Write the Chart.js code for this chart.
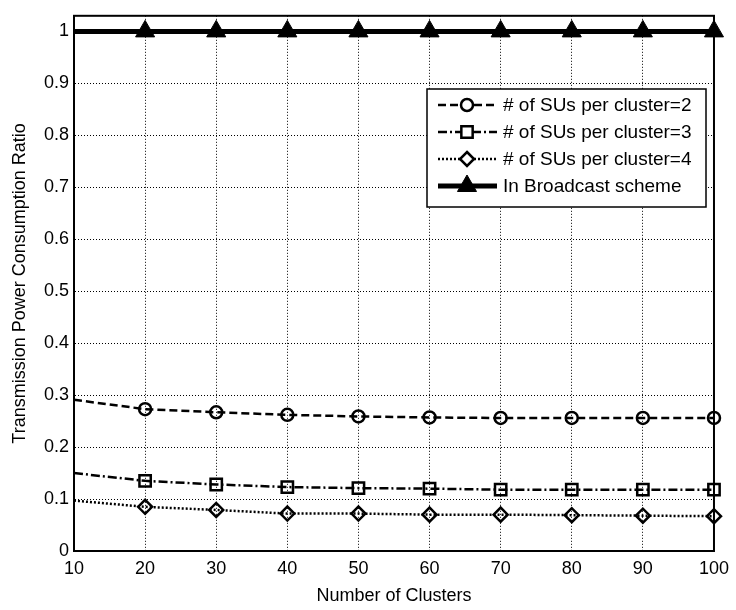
<!DOCTYPE html>
<html>
<head>
<meta charset="utf-8">
<script src="https://cdn.jsdelivr.net/npm/chart.js@4/dist/chart.umd.min.js"></script>
<style>
  html, body { margin: 0; padding: 0; background: #fff; }
  #wrap { width: 736px; height: 610px; }
</style>
</head>
<body>
<div id="wrap"><canvas id="chart" width="736" height="610"></canvas></div>
<script>
'use strict';

var clusters = [10, 20, 30, 40, 50, 60, 70, 80, 90, 100];
var su2 = [0.291, 0.273, 0.267, 0.262, 0.259, 0.257, 0.256, 0.256, 0.256, 0.256];
var su3 = [0.150, 0.135, 0.128, 0.123, 0.121, 0.120, 0.118, 0.118, 0.118, 0.118];
var su4 = [0.097, 0.085, 0.079, 0.072, 0.072, 0.070, 0.070, 0.069, 0.068, 0.067];
var broadcast = [1, 1, 1, 1, 1, 1, 1, 1, 1, 1];
var seriesLabels = [
	'# of SUs per cluster=2',
	'# of SUs per cluster=3',
	'# of SUs per cluster=4',
	'In Broadcast scheme'
];

var FONT = '"Liberation Sans", Arial, Helvetica, sans-serif';

function points( ys ) {
	return clusters.map( function ( x, i ) {
		return { x: x, y: ys[i] };
	} );
}

// no marker on the first sample, as in the original figure
function radii( r ) {
	return clusters.map( function ( x, i ) {
		return i === 0 ? 0 : r;
	} );
}

function drawMarker( ctx, style, x, y, r ) {
	ctx.beginPath();
	if ( style === 'circle' ) {
		ctx.arc( x, y, r, 0, Math.PI * 2 );
	} else if ( style === 'rect' ) {
		var s = r * Math.SQRT1_2;
		ctx.rect( x - s, y - s, s * 2, s * 2 );
	} else if ( style === 'rectRot' ) {
		ctx.moveTo( x, y - r );
		ctx.lineTo( x + r, y );
		ctx.lineTo( x, y + r );
		ctx.lineTo( x - r, y );
		ctx.closePath();
	} else if ( style === 'triangle' ) {
		ctx.moveTo( x, y - r );
		ctx.lineTo( x + r * 0.866, y + r * 0.5 );
		ctx.lineTo( x - r * 0.866, y + r * 0.5 );
		ctx.closePath();
	}
}

var boxAndLegend = {
	id: 'boxAndLegend',
	afterDraw: function ( chart ) {
		var ctx = chart.ctx;
		var a = chart.chartArea;

		ctx.save();
		ctx.strokeStyle = '#000';
		ctx.lineWidth = 2;
		ctx.setLineDash( [] );
		ctx.strokeRect( a.left, a.top, a.right - a.left, a.bottom - a.top );

		// legend box inside the plot, upper right
		var lx = 427, ly = 89, lw = 279, lh = 118, row = 27;
		ctx.fillStyle = '#fff';
		ctx.fillRect( lx, ly, lw, lh );
		ctx.lineWidth = 1.5;
		ctx.strokeRect( lx, ly, lw, lh );

		chart.data.datasets.forEach( function ( ds, i ) {
			var cy = ly + 16 + i * row;
			ctx.strokeStyle = '#000';
			ctx.lineWidth = ds.borderWidth;
			ctx.setLineDash( ds.borderDash || [] );
			ctx.beginPath();
			ctx.moveTo( 438, cy );
			ctx.lineTo( 497, cy );
			ctx.stroke();

			ctx.setLineDash( [] );
			ctx.lineWidth = ds.pointBorderWidth;
			drawMarker( ctx, ds.pointStyle, 467, cy, ds.legendRadius );
			if ( ds.pointStyle === 'triangle' ) {
				ctx.fillStyle = '#000';
				ctx.fill();
			} else {
				ctx.fillStyle = '#fff';
				ctx.fill();
			}
			ctx.stroke();

			ctx.fillStyle = '#000';
			ctx.font = '19px ' + FONT;
			ctx.textAlign = 'left';
			ctx.textBaseline = 'middle';
			ctx.fillText( ds.label, 503, cy + 1 );
		} );
		ctx.restore();
	}
};

new Chart( document.getElementById( 'chart' ), {
	type: 'line',
	data: {
		datasets: [
			{
				label: seriesLabels[0],
				data: points( su2 ),
				borderColor: '#000',
				borderWidth: 2.5,
				borderDash: [ 8, 4 ],
				pointStyle: 'circle',
				pointRadius: radii( 6 ),
				legendRadius: 6,
				pointBorderWidth: 2.5,
				pointBackgroundColor: 'rgba(0,0,0,0)',
				pointBorderColor: '#000',
				clip: false
			},
			{
				label: seriesLabels[1],
				data: points( su3 ),
				borderColor: '#000',
				borderWidth: 2.5,
				borderDash: [ 9, 3, 2, 3 ],
				pointStyle: 'rect',
				pointRadius: radii( 8 ),
				legendRadius: 8,
				pointBorderWidth: 2.5,
				pointBackgroundColor: 'rgba(0,0,0,0)',
				pointBorderColor: '#000',
				clip: false
			},
			{
				label: seriesLabels[2],
				data: points( su4 ),
				borderColor: '#000',
				borderWidth: 2.5,
				borderDash: [ 2, 2 ],
				pointStyle: 'rectRot',
				pointRadius: radii( 7 ),
				legendRadius: 7,
				pointBorderWidth: 2.5,
				pointBackgroundColor: 'rgba(0,0,0,0)',
				pointBorderColor: '#000',
				clip: false
			},
			{
				label: seriesLabels[3],
				data: points( broadcast ),
				borderColor: '#000',
				borderWidth: 5,
				pointStyle: 'triangle',
				pointRadius: radii( 11 ),
				legendRadius: 11,
				pointBorderWidth: 1,
				pointBackgroundColor: '#000',
				pointBorderColor: '#000',
				clip: false
			}
		]
	},
	options: {
		responsive: false,
		devicePixelRatio: 1,
		animation: false,
		layout: {
			padding: { left: 0, right: 18, top: 7, bottom: 0 }
		},
		plugins: {
			legend: { display: false },
			tooltip: { enabled: false }
		},
		elements: {
			line: { tension: 0 }
		},
		scales: {
			x: {
				type: 'linear',
				min: 10,
				max: 100,
				afterFit: function ( scale ) {
					scale.height = 59;
				},
				ticks: {
					stepSize: 10,
					color: '#000',
					padding: 7,
					maxRotation: 0,
					font: { family: FONT, size: 18 }
				},
				grid: {
					color: '#000',
					lineWidth: 1,
					drawTicks: false,
					tickBorderDash: [],
					borderDash: [ 1, 2 ]
				},
				border: { color: '#000', width: 2, dash: [ 1, 2 ] },
				title: {
					display: true,
					text: 'Number of Clusters',
					color: '#000',
					padding: { top: 0, bottom: 3 },
					font: { family: FONT, size: 18 }
				}
			},
			y: {
				min: 0,
				max: 1.03,
				afterFit: function ( scale ) {
					scale.width = 74;
				},
				ticks: {
					stepSize: 0.1,
					includeBounds: false,
					color: '#000',
					padding: 5,
					font: { family: FONT, size: 18 },
					callback: function ( v ) {
						return String( +v.toFixed( 1 ) );
					}
				},
				grid: {
					color: '#000',
					lineWidth: 1,
					drawTicks: false
				},
				border: { color: '#000', width: 2, dash: [ 1, 2 ] },
				title: {
					display: true,
					text: 'Transmission Power Consumption Ratio',
					color: '#000',
					padding: { top: 9, bottom: 0 },
					font: { family: FONT, size: 18 }
				}
			}
		}
	},
	plugins: [ boxAndLegend ]
} );
</script>
</body>
</html>
